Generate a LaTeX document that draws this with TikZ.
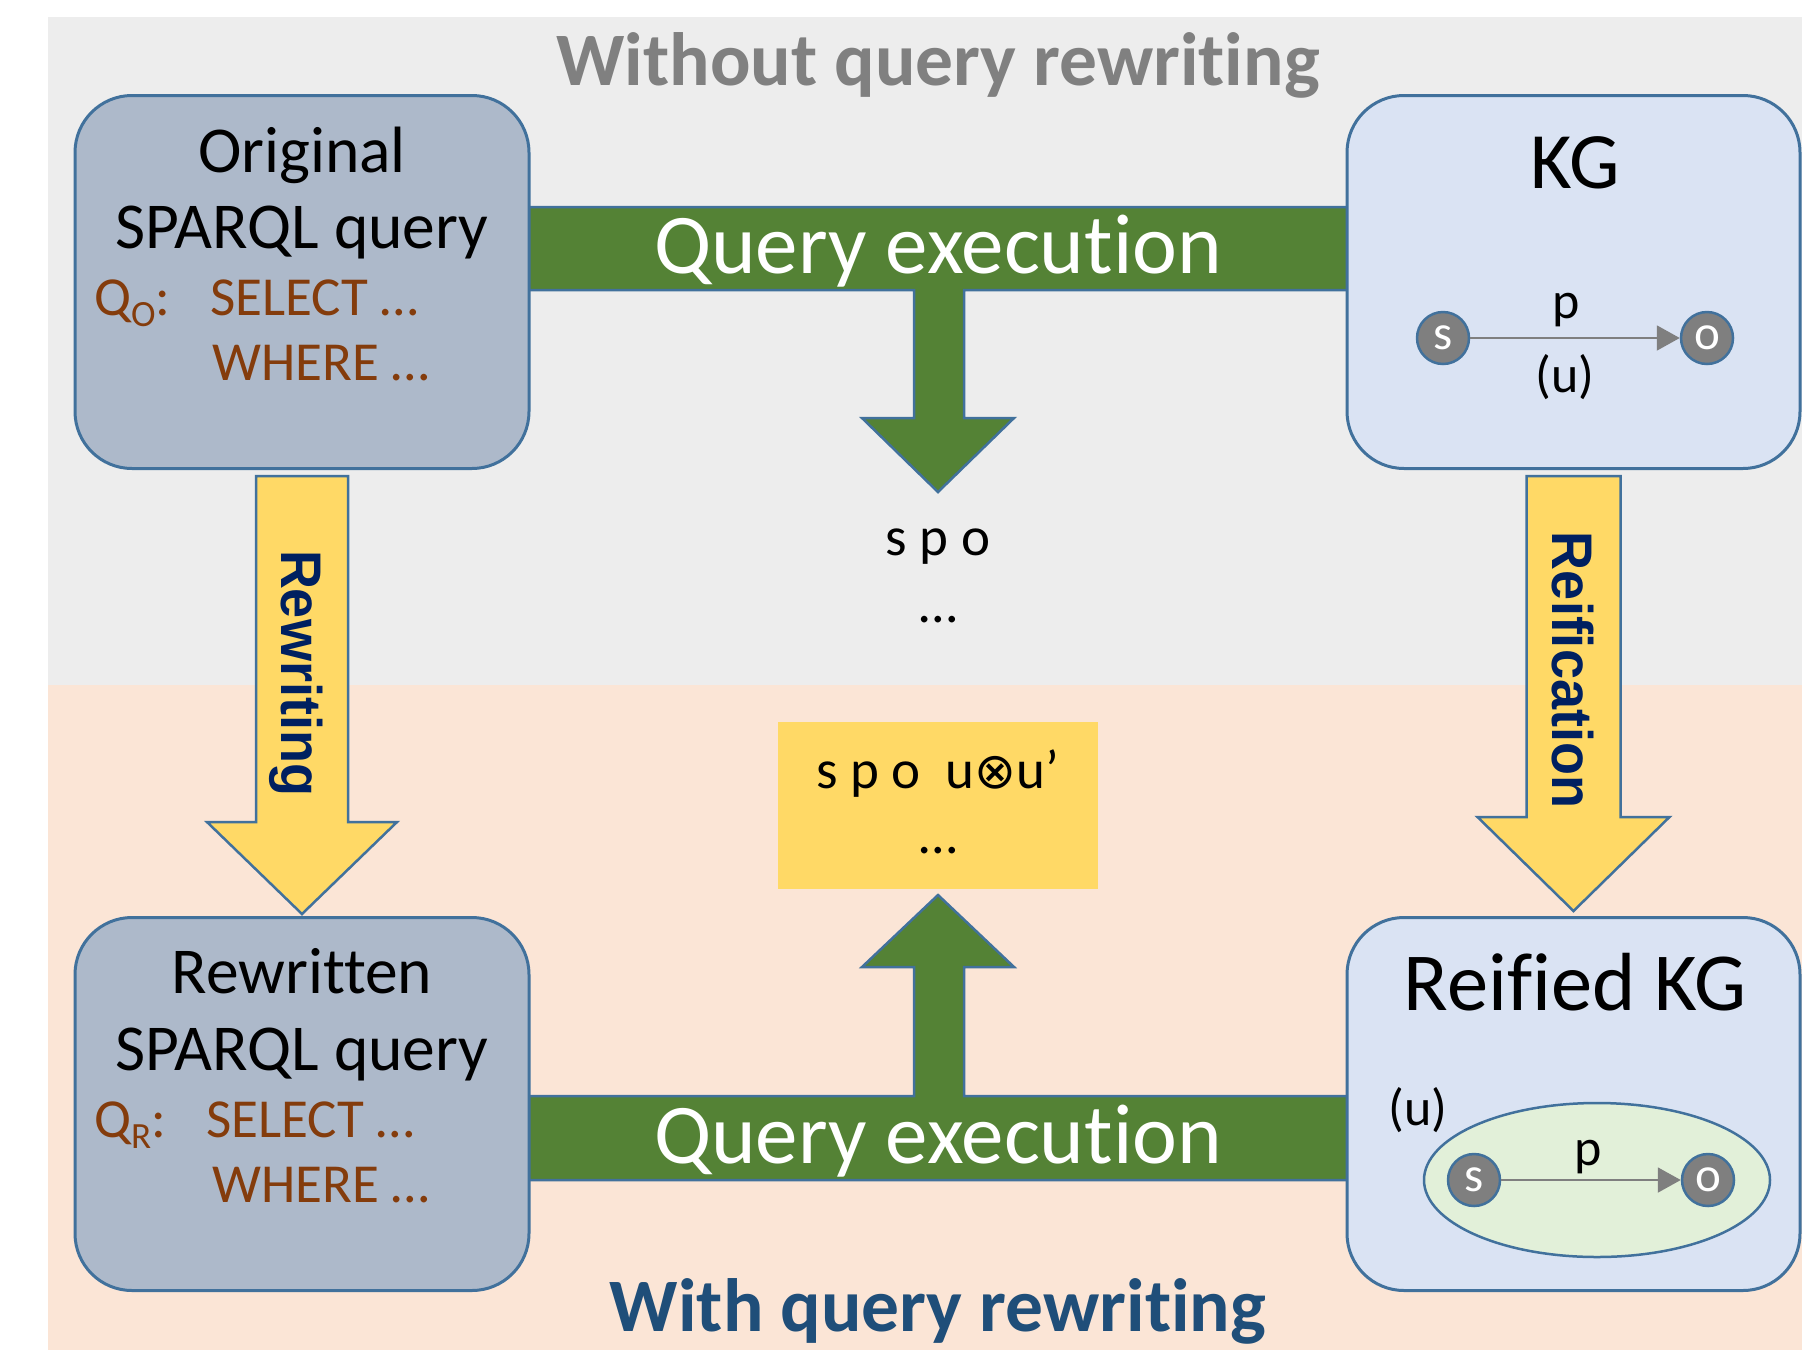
\documentclass[tikz,border=0pt]{standalone}
\usepackage{fontspec}
\setmainfont{Carlito}[Ligatures={TeX,NoCommon}]
\newfontfamily\arialfont{Liberation Sans}
\newfontfamily\dejavufont{DejaVu Sans}
\usetikzlibrary{arrows.meta,shapes.geometric,calc}
\definecolor{bggray}{HTML}{EDEDED}
\definecolor{bgpeach}{HTML}{FBE5D6}
\definecolor{qbox}{HTML}{ADB9CA}
\definecolor{kgbox}{HTML}{DAE3F3}
\definecolor{edgeblue}{HTML}{41719C}
\definecolor{execgreen}{HTML}{548235}
\definecolor{stepyellow}{HTML}{FFD966}
\definecolor{titlegray}{HTML}{808080}
\definecolor{titleblue}{HTML}{1F4E79}
\definecolor{navytext}{HTML}{002060}
\definecolor{brownq}{HTML}{843C0C}
\definecolor{nodegray}{HTML}{7F7F7F}
\definecolor{ellgreen}{HTML}{E2F0D9}
\newcommand{\fsz}[1]{\fontsize{#1}{#1}\selectfont}
\begin{document}
\begin{tikzpicture}[x=1pt,y=-1pt,
  qpanel/.style={draw=edgeblue, fill=qbox, line width=3pt, rounded corners=57pt, minimum width=454pt, minimum height=373pt, inner sep=0pt},
  kgpanel/.style={draw=edgeblue, fill=kgbox, line width=3pt, rounded corners=57pt, minimum width=453pt, minimum height=373pt, inner sep=0pt},
  greenblock/.style={fill=execgreen, draw=edgeblue, line width=2.5pt, line join=miter},
  yellowblock/.style={fill=stepyellow, draw=edgeblue, line width=2.5pt, line join=miter},
  txt/.style={inner sep=0pt, anchor=base},
  txtw/.style={inner sep=0pt, anchor=base west},
  gnode/.style={circle, fill=nodegray, draw=edgeblue, line width=2.5pt, minimum size=52pt, inner sep=0pt, text=white, font=\fsz{49}},
  garrow/.style={draw=nodegray, line width=2pt, -{Triangle[length=23pt,width=25pt]}},
  steplabel/.style={rotate=-90, inner sep=0pt, text=navytext, font=\arialfont\bfseries\fsz{54}}
]
\useasboundingbox (0,0) rectangle (1802,1350);
% backgrounds
\fill[bggray] (48,17) rectangle (1802,685);
\fill[bgpeach] (48,685) rectangle (1802,1350);

% titles
\node[txt, text=titlegray, font=\bfseries\fsz{75.5}] (ttop) at (938,85) {Without query rewriting};
\node[txt, text=titleblue, font=\bfseries\fsz{75.5}] (tbot) at (938,1331) {With query rewriting};

% green execution shapes
\draw[greenblock] (525,207) -- (1350,207) -- (1350,290) -- (964,290) -- (964,418) -- (1014,418) -- (938,492) -- (862,418) -- (914,418) -- (914,290) -- (525,290) -- cycle;
\draw[greenblock] (525,1180) -- (1350,1180) -- (1350,1096) -- (964,1096) -- (964,967) -- (1014,967) -- (938,895) -- (862,967) -- (914,967) -- (914,1096) -- (525,1096) -- cycle;
\node[txt, text=white, font=\fsz{85}] (ex1) at (938,273) {Query execution};
\node[txt, text=white, font=\fsz{85}] (ex2) at (938,1163) {Query execution};

% panels
\node[qpanel] (orig) at (302,282) {};
\node[qpanel] (rewr) at (302,1104) {};
\node[kgpanel] (kg) at (1573.5,282) {};
\node[kgpanel] (rkg) at (1573.5,1104) {};

% yellow arrows
\draw[yellowblock] ($(orig.south)+(-46,6)$) -- ($(orig.south)+(46,6)$) -- ($(rewr.north)+(46,-94)$) -- ($(rewr.north)+(95,-94)$) -- ($(rewr.north)+(0,-2)$) -- ($(rewr.north)+(-95,-94)$) -- ($(rewr.north)+(-46,-94)$) -- cycle;
\draw[yellowblock] ($(kg.south)+(-47,6)$) -- ($(kg.south)+(47,6)$) -- ($(rkg.north)+(47,-99)$) -- ($(rkg.north)+(96,-99)$) -- ($(rkg.north)+(0,-5)$) -- ($(rkg.north)+(-96,-99)$) -- ($(rkg.north)+(-47,-99)$) -- cycle;
\node[steplabel] (lrew) at (296,673) {\scalebox{1}[1.06]{Rewriting}};
\node[steplabel] (lrei) at (1573,670) {\scalebox{1}[1.06]{Reification}};

% query boxes text
\node[txt, font=\fsz{65.5}] (o1) at (302,172) {Original};
\node[txt, font=\fsz{65.5}] (o2) at (302,248) {SPARQL query};
\node[txtw, text=brownq, font=\fsz{55}] (o3) at (94,315) {Q\raisebox{-0.2em}{\fsz{37}O}:};
\node[txtw, text=brownq, font=\fsz{55}] (o4) at (210,315) {SELECT …};
\node[txtw, text=brownq, font=\fsz{55}] (o5) at (212,380) {WHERE …};

\node[txt, font=\fsz{65.5}] (r1) at (302,993) {Rewritten};
\node[txt, font=\fsz{65.5}] (r2) at (302,1070) {SPARQL query};
\node[txtw, text=brownq, font=\fsz{55}] (r3) at (94,1137) {Q\raisebox{-0.2em}{\fsz{37}R}:};
\node[txtw, text=brownq, font=\fsz{55}] (r4) at (206,1137) {SELECT …};
\node[txtw, text=brownq, font=\fsz{55}] (r5) at (212,1202) {WHERE …};

% KG
\node[txt, font=\fsz{80}] (kgt) at (1575,188) {KG};
\node[gnode] (s1) at (1443,338) {s};
\node[gnode] (ob1) at (1707,338) {o};
\draw[garrow] (s1) -- (ob1);
\node[txt, font=\fsz{52}] (p1) at (1566,318) {p};
\node[txt, font=\fsz{52}] (u1) at (1565,392) {(u)};

% Reified KG
\node[txt, font=\fsz{82.5}] (rkgt) at (1575,1010) {Reified KG};
\node[ellipse, draw=edgeblue, fill=ellgreen, line width=2.5pt, minimum width=346pt, minimum height=154pt, inner sep=0pt] (ell) at (1597,1180) {};
\node[gnode] (s2) at (1474,1180) {s};
\node[gnode] (ob2) at (1708,1180) {o};
\draw[garrow] (s2) -- (ob2);
\node[txt, font=\fsz{52}] (p2) at (1588,1165) {p};
\node[txt, font=\fsz{52}] (u2) at (1418,1125) {(u)};

% results
\node[txt, font=\fsz{55}] (res1) at (938,555) {s p o};
\node[txt, font=\fsz{55}] (res1d) at (938,622) {…};
\node[fill=stepyellow, minimum width=320pt, minimum height=167pt, inner sep=0pt] (res2box) at (938,805.5) {};
\node[txt, font=\fsz{55}] (res2) at (938,788) {s p o\ \ u{\dejavufont\fsz{50}⊗}u’};
\node[txt, font=\fsz{55}] (res2d) at (938,853) {…};
\end{tikzpicture}
\end{document}
